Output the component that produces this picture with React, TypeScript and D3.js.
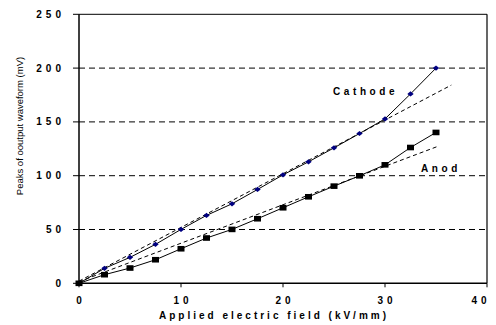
import React from "react";
import * as d3 from "d3";

const fieldKV = [0, 2.5, 5, 7.5, 10, 12.5, 15, 17.5, 20, 22.5, 25, 27.5, 30, 32.5, 35];
const cathodeMV = [0, 13.9, 24.1, 36.2, 50.1, 63.1, 73.9, 87.2, 100.8, 112.9, 125.9, 139.2, 152.8, 176, 200];
const anodMV = [0, 8.0, 14.2, 21.9, 32.1, 42.1, 50.1, 60.0, 70.2, 80.4, 90.3, 99.9, 110.1, 126.2, 140.2];
const cathodeTrend = [[0, 2], [36.5, 184.2]];
const anodTrend = [[0, 1.5], [35.3, 127.7]];
const xTicks = [0, 10, 20, 30, 40];
const yTicks = [0, 50, 100, 150, 200, 250];
const gridTicks = [50, 100, 150, 200];

const W = 496, H = 325;
const L = 79, R = 487, T = 14.3, B = 283.3;
const FONT = "'Liberation Sans', Arial, sans-serif";

export default function App() {
  const x = d3.scaleLinear().domain([0, 40]).range([L, R]);
  const y = d3.scaleLinear().domain([0, 250]).range([B, T]);
  const line = d3.line<number>().x((_, i) => x(fieldKV[i])).y((v) => y(v));
  const tline = d3.line<number[]>().x((d) => x(d[0])).y((d) => y(d[1]));
  const diamond = (cx: number, cy: number) =>
    `M${cx},${cy - 2.6}L${cx + 3.2},${cy}L${cx},${cy + 2.6}L${cx - 3.2},${cy}Z`;

  return (
    <svg width={W} height={H} style={{ position: "absolute", left: 0, top: 0, background: "#fff" }} fontFamily={FONT}>
      <rect x={0} y={0} width={W} height={H} fill="#fff" />
      {gridTicks.map((t) => (
        <line key={t} x1={L} x2={R} y1={y(t)} y2={y(t)} stroke="#000" strokeWidth={1} strokeDasharray="6,4" />
      ))}
      {/* frame */}
      <line x1={L} x2={R} y1={T} y2={T} stroke="#000" strokeWidth={1} />
      <line x1={R} x2={R} y1={T} y2={B} stroke="#000" strokeWidth={1.2} />
      <line x1={L} x2={R} y1={B} y2={B} stroke="#000" strokeWidth={1.5} />
      <line x1={L} x2={L} y1={T} y2={B} stroke="#000" strokeWidth={1.5} />
      {yTicks.map((t) => (
        <g key={t}>
          <line x1={L - 6} x2={L} y1={y(t)} y2={y(t)} stroke="#000" strokeWidth={1} />
          <text x={L - 14} y={y(t)} dy="0.35em" textAnchor="end" fontSize={10} fontWeight="bold" letterSpacing={4}>
            {t}
          </text>
        </g>
      ))}
      {xTicks.map((t) => (
        <g key={t}>
          <line x1={x(t)} x2={x(t)} y1={B} y2={B + 4} stroke="#000" strokeWidth={1} />
          <text x={Math.min(x(t) + 2, 481)} y={300} dy="0.35em" textAnchor="middle" fontSize={10} fontWeight="bold" letterSpacing={4}>
            {t}
          </text>
        </g>
      ))}
      {/* trend lines */}
      <path d={tline(cathodeTrend) || ""} fill="none" stroke="#000" strokeWidth={1} strokeDasharray="4,3" />
      <path d={tline(anodTrend) || ""} fill="none" stroke="#000" strokeWidth={1} strokeDasharray="4,3" />
      {/* series */}
      <path d={line(cathodeMV) || ""} fill="none" stroke="#000" strokeWidth={1} />
      <path d={line(anodMV) || ""} fill="none" stroke="#000" strokeWidth={1} />
      {anodMV.map((v, i) => (
        <rect key={"a" + i} x={x(fieldKV[i]) - 3.5} y={y(v) - 2.8} width={7} height={5.6} fill="#000" />
      ))}
      {cathodeMV.map((v, i) =>
        i === 0 ? null : <path key={"c" + i} d={diamond(x(fieldKV[i]), y(v))} fill="#000080" />
      )}
      <text x={333} y={95} fontSize={10} fontWeight="bold" letterSpacing={3.6}>Cathode</text>
      <text x={421} y={172} fontSize={10} fontWeight="bold" letterSpacing={3.6}>Anod</text>
      <text x={274} y={315} dy="0.35em" textAnchor="middle" fontSize={10} fontWeight="bold" letterSpacing={3}>
        Applied electric field (kV/mm)
      </text>
      <text transform={`translate(20,126) rotate(-90)`} textAnchor="middle" dy="0.35em" fontSize={9.5} fill="#000">
        Peaks of ooutput waveform (mV)
      </text>
    </svg>
  );
}
